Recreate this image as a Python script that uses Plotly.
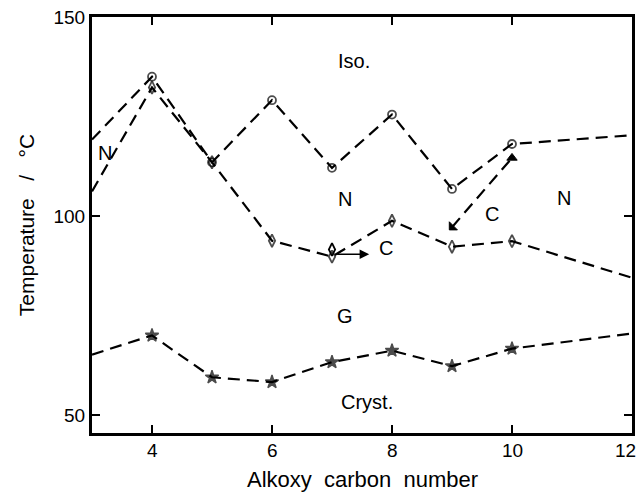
import plotly.graph_objects as go

# ---- data ----
carbon = [3, 4, 5, 6, 7, 8, 9, 10, 12]
iso_n = [119.2, 135.0, 113.5, 129.1, 112.1, 125.5, 106.8, 118.1, 120.3]      # circles
n_c = [106.2, 132.3, 113.5, 93.8, 89.8, 98.8, 92.3, 93.7, 84.5]             # diamonds
c_g = [65.2, 70.0, 59.5, 58.3, 63.3, 66.2, 62.3, 66.7, 70.5]                 # stars
tri_x = [9, 10]
tri_y = [97.2, 114.6]
extra_x = [7]
extra_y = [91.6]

phase_labels = ["Iso.", "N", "N", "C", "N", "C", "G", "Cryst."]
label_x = [7.37, 3.22, 7.22, 9.66, 10.87, 7.9, 7.22, 7.58]
label_y = [138.9, 115.9, 104.3, 100.4, 104.6, 92.0, 74.8, 53.4]

x_range = [3, 12]
y_range = [45.5, 150]
y_ticks = [50, 100, 150]
x_ticks = [4, 6, 8, 10, 12]
x_ticktext = ["4", "6", "8", "10", "12"]

x_title = "Alkoxy\u00a0\u00a0carbon\u00a0\u00a0number"
y_title = "Temperature\u00a0\u00a0\u00a0/\u00a0\u00a0\u00a0°C"

FONT = "Liberation Sans"
DASH = "12px,7px"
LW = 2.2

def edge_sizes(xs, s):
    return [0 if (v == x_range[0] or v == x_range[1]) else s for v in xs]

fig = go.Figure()

fig.add_trace(go.Scatter(
    x=carbon, y=iso_n, mode="lines+markers",
    line=dict(color="black", width=LW, dash=DASH),
    marker=dict(symbol="circle-open", size=edge_sizes(carbon, 8),
                color="black", line=dict(width=1.8, color="black")),
    showlegend=False))

fig.add_trace(go.Scatter(
    x=carbon, y=n_c, mode="lines+markers",
    line=dict(color="black", width=LW, dash=DASH),
    marker=dict(symbol="diamond-tall-open", size=edge_sizes(carbon, 9),
                color="black", line=dict(width=1.8, color="black")),
    showlegend=False))

fig.add_trace(go.Scatter(
    x=extra_x, y=extra_y, mode="markers",
    marker=dict(symbol="diamond-tall-open", size=9, color="black",
                line=dict(width=1.8, color="black")),
    showlegend=False))

fig.add_trace(go.Scatter(
    x=tri_x, y=tri_y, mode="lines+markers",
    line=dict(color="black", width=LW, dash=DASH),
    marker=dict(symbol=["triangle-sw", "triangle-up"], size=9, color="black",
                line=dict(width=1, color="black")),
    showlegend=False))

fig.add_trace(go.Scatter(
    x=carbon, y=c_g, mode="lines+markers",
    line=dict(color="black", width=LW, dash=DASH),
    marker=dict(symbol="star", size=edge_sizes(carbon, 10), color="black",
                line=dict(width=1.4, color="black")),
    showlegend=False))

annotations = []
for t, lx, ly in zip(phase_labels, label_x, label_y):
    annotations.append(dict(x=lx, y=ly, xref="x", yref="y", text=t,
                            showarrow=False,
                            font=dict(family=FONT, size=20, color="black")))

# arrow at x = 7
annotations.append(dict(x=7.62, y=90.4, ax=7.06, ay=90.4, xref="x", yref="y",
                        axref="x", ayref="y", text="", showarrow=True,
                        arrowhead=2, arrowsize=1.2, arrowwidth=1.6,
                        arrowcolor="black"))

# x tick labels as annotations (last one sits just inside the right edge)
for tv, tt in zip(x_ticks, x_ticktext):
    annotations.append(dict(x=tv, y=0, xref="x", yref="paper", text=tt,
                            showarrow=False, xanchor="center", yanchor="middle",
                            xshift=(-7 if tv == x_range[1] else 0), yshift=-17,
                            font=dict(family=FONT, size=19, color="black")))

# x-axis title as annotation (keeps the plot area fixed)
annotations.append(dict(x=0.5, y=0, xref="paper", yref="paper", text=x_title,
                        showarrow=False, xanchor="center", yanchor="top",
                        yshift=-32, font=dict(family=FONT, size=22, color="black")))

fig.update_layout(
    width=642, height=492,
    margin=dict(l=92, r=10, t=17, b=59),
    paper_bgcolor="white", plot_bgcolor="white",
    font=dict(family=FONT, color="black", size=19),
    annotations=annotations,
    xaxis=dict(range=x_range, tickvals=x_ticks, showticklabels=False,
               ticks="inside", ticklen=8,
               tickwidth=2, tickcolor="black", showline=True, linewidth=3,
               linecolor="black", mirror="ticks", showgrid=False, zeroline=False,
               automargin=False),
    yaxis=dict(range=y_range, tickvals=y_ticks, ticks="inside", ticklen=8,
               tickwidth=2, tickcolor="black", showline=True, linewidth=3,
               linecolor="black", mirror="ticks", showgrid=False, zeroline=False,
               automargin=False,
               tickfont=dict(family=FONT, size=19),
               title=dict(text=y_title,
                          font=dict(family=FONT, size=21), standoff=14)),
)

fig.write_html("out.html")
